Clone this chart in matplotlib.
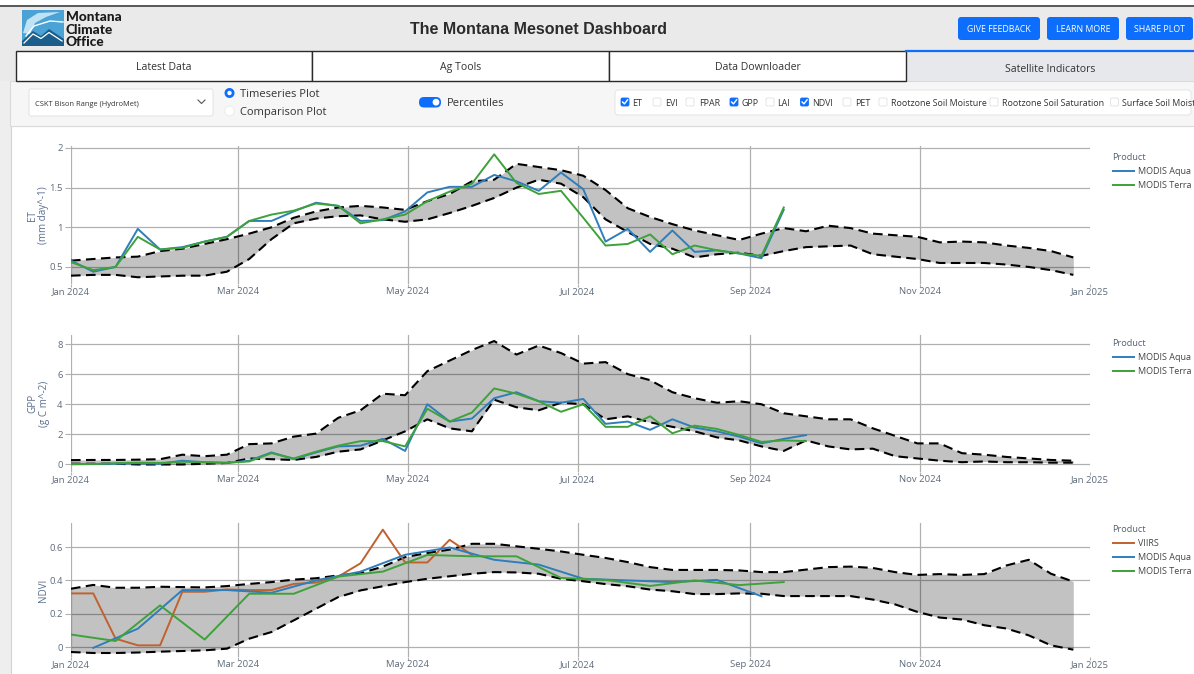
import numpy as np
import matplotlib
matplotlib.use("Agg")
import matplotlib.pyplot as plt
from matplotlib.patches import Rectangle, FancyBboxPatch, Polygon, Circle

plt.rcParams['font.family'] = ['Open Sans', 'DejaVu Sans']

# ---------------- data ----------------
START = np.datetime64('2024-01-01')
COMPOSITE_DAYS = 8

et_upper = [0.58, 0.60, 0.62, 0.63, 0.70, 0.73, 0.79, 0.85, 0.92, 1.00, 1.12, 1.20, 1.25, 1.27, 1.25, 1.22,
            1.33, 1.42, 1.58, 1.60, 1.80, 1.76, 1.72, 1.65, 1.47, 1.24, 1.13, 1.04, 0.96, 0.90, 0.84, 0.92,
            0.99, 0.95, 1.02, 0.99, 0.92, 0.90, 0.88, 0.81, 0.82, 0.81, 0.77, 0.74, 0.70, 0.62]
et_lower = [0.39, 0.40, 0.40, 0.37, 0.38, 0.39, 0.39, 0.44, 0.60, 0.85, 1.05, 1.11, 1.14, 1.15, 1.10, 1.07,
            1.10, 1.18, 1.27, 1.37, 1.50, 1.60, 1.55, 1.38, 1.10, 0.94, 0.79, 0.73, 0.62, 0.66, 0.68, 0.64,
            0.70, 0.75, 0.76, 0.77, 0.66, 0.63, 0.60, 0.55, 0.55, 0.55, 0.53, 0.50, 0.46, 0.40]
et_aqua = [0.58, 0.44, 0.50, 0.98, 0.72, 0.75, 0.82, 0.88, 1.08, 1.08, 1.20, 1.31, 1.27, 1.08, 1.09, 1.20,
           1.44, 1.51, 1.51, 1.66, 1.58, 1.46, 1.69, 1.48, 0.82, 0.98, 0.69, 0.96, 0.69, 0.71, 0.67, 0.61, 1.22]
et_terra = [0.56, 0.46, 0.50, 0.88, 0.72, 0.74, 0.82, 0.88, 1.08, 1.16, 1.21, 1.30, 1.27, 1.05, 1.10, 1.16,
            1.33, 1.45, 1.55, 1.92, 1.56, 1.42, 1.46, 1.12, 0.77, 0.79, 0.91, 0.66, 0.77, 0.71, 0.67, 0.64, 1.25]

gpp_upper = [0.29, 0.30, 0.30, 0.32, 0.35, 0.65, 0.55, 0.65, 1.35, 1.40, 1.85, 2.05, 3.10, 3.60, 4.70, 4.60,
             6.20, 6.90, 7.60, 8.20, 7.30, 7.90, 7.40, 6.70, 6.80, 6.00, 5.60, 4.80, 4.40, 4.10, 4.20, 4.00,
             3.40, 3.20, 3.00, 3.00, 2.40, 1.90, 1.40, 1.40, 0.75, 0.65, 0.50, 0.40, 0.30, 0.25]
gpp_lower = [0.05, 0.05, 0.05, 0.00, 0.00, 0.00, 0.05, 0.10, 0.40, 0.35, 0.30, 0.50, 0.85, 1.00, 1.60, 2.20,
             3.00, 2.40, 2.20, 4.30, 3.80, 3.60, 4.10, 4.00, 3.00, 3.20, 2.80, 2.50, 2.20, 1.80, 1.60, 1.20,
             0.90, 1.60, 1.20, 1.00, 1.05, 0.55, 0.40, 0.25, 0.15, 0.20, 0.15, 0.15, 0.12, 0.12]
gpp_aqua = [0.02, 0.03, 0.05, 0.08, 0.05, 0.25, 0.15, 0.10, 0.25, 0.80, 0.36, 0.80, 1.20, 1.25, 1.70, 0.90,
            4.00, 2.85, 3.05, 4.40, 4.80, 4.20, 4.10, 4.35, 2.70, 2.85, 2.30, 3.00, 2.45, 2.20, 1.85, 1.40,
            1.70, 1.95]
gpp_terra = [0.02, 0.03, 0.08, 0.12, 0.10, 0.18, 0.15, 0.12, 0.20, 0.75, 0.40, 0.85, 1.25, 1.55, 1.55, 1.20,
             3.70, 2.85, 3.45, 5.05, 4.70, 4.20, 3.50, 4.00, 2.50, 2.50, 3.20, 2.07, 2.58, 2.36, 1.96, 1.50,
             1.60, 1.55]

ndvi_upper = [0.350, 0.373, 0.356, 0.356, 0.362, 0.360, 0.358, 0.366, 0.379, 0.390, 0.405, 0.413, 0.430,
              0.443, 0.483, 0.540, 0.565, 0.585, 0.620, 0.620, 0.605, 0.590, 0.574, 0.554, 0.535, 0.510,
              0.480, 0.463, 0.463, 0.463, 0.460, 0.450, 0.450, 0.465, 0.480, 0.483, 0.475, 0.450, 0.433,
              0.438, 0.433, 0.438, 0.490, 0.524, 0.440, 0.393]
ndvi_lower = [-0.030, -0.036, -0.036, -0.033, -0.028, -0.024, -0.020, -0.010, 0.050, 0.090, 0.160, 0.230,
              0.300, 0.340, 0.365, 0.390, 0.410, 0.425, 0.440, 0.450, 0.448, 0.440, 0.410, 0.395, 0.378,
              0.365, 0.345, 0.335, 0.318, 0.318, 0.322, 0.320, 0.306, 0.306, 0.306, 0.306, 0.285, 0.256,
              0.211, 0.177, 0.165, 0.131, 0.111, 0.070, 0.010, -0.016]
ndvi_viirs = [0.322, 0.322, 0.050, 0.010, 0.010, 0.332, 0.332, 0.346, 0.342, 0.342, 0.379, 0.387, 0.423,
              0.503, 0.705, 0.508, 0.508, 0.644, 0.553]
ndvi_aqua = [-0.005, 0.110, 0.342, 0.342, 0.326, 0.400, 0.453, 0.554, 0.598, 0.524, 0.495, 0.410, 0.400,
             0.390, 0.403, 0.305]          # 16-day, starting Jan 9
ndvi_terra = [0.075, 0.036, 0.250, 0.045, 0.320, 0.320, 0.423, 0.453, 0.553, 0.545, 0.545, 0.415, 0.403,
              0.367, 0.400, 0.372, 0.390]  # 16-day, starting Jan 1

month_ticks = ['2024-01-01', '2024-03-01', '2024-05-01', '2024-07-01', '2024-09-01', '2024-11-01', '2025-01-01']
month_labels = ['Jan 2024', 'Mar 2024', 'May 2024', 'Jul 2024', 'Sep 2024', 'Nov 2024', 'Jan 2025']

C_AQUA = '#2f7ebc'
C_TERRA = '#3ea23a'
C_VIIRS = '#c0622e'


def dates(n, step=COMPOSITE_DAYS, offset=0):
    return START + np.timedelta64(offset, 'D') + np.arange(n) * np.timedelta64(step, 'D')


# ---------------- figure & page chrome ----------------
W, H = 1194, 674
fig = plt.figure(figsize=(W / 100, H / 100), dpi=100)
fig.patch.set_facecolor('white')
ui = fig.add_axes([0, 0, 1, 1], zorder=0)
ui.set_xlim(0, W)
ui.set_ylim(H, 0)
ui.axis('off')

DY = 1.5  # visual centring correction for text


def box(x0, y0, x1, y1, fc, ec='none', lw=0.0, r=0.0, z=1):
    if r > 0:
        p = FancyBboxPatch((x0, y0), x1 - x0, y1 - y0, boxstyle=f"round,pad=0,rounding_size={r}",
                           fc=fc, ec=ec, lw=lw, zorder=z)
    else:
        p = Rectangle((x0, y0), x1 - x0, y1 - y0, fc=fc, ec=ec, lw=lw, zorder=z)
    ui.add_patch(p)
    return p


def label(x, y, s, **kw):
    kw.setdefault('va', 'center')
    kw.setdefault('zorder', 4)
    return ui.text(x, y + DY, s, **kw)


# header
box(0, 7, W, 81, '#eaeaea', z=0.5)
ui.plot([0, W], [6, 6], color='#4a4a4a', lw=1.3, zorder=2)

# logo
box(22, 10, 64, 46, '#4aa3d4', z=2)
ui.add_patch(Polygon([(23, 33), (27, 20), (38, 13), (60, 12), (46, 17), (35, 23), (30, 34)],
                     closed=True, fc='#bfe2f4', ec='none', zorder=3))
ui.add_patch(Polygon([(22, 46), (22, 41), (33, 31), (41, 36), (49, 29), (64, 39), (64, 46)],
                     closed=True, fc='#1b5e8c', ec='none', zorder=3))
ui.plot([24, 33, 41, 49, 62], [43, 34, 38.5, 32.5, 41], color='white', lw=0.9, zorder=4)
ui.plot([26, 34, 50, 63], [36, 26, 21, 22], color='white', lw=1.0, zorder=4)
for txt, yy in [('Montana', 15.5), ('Climate', 28), ('Office', 40.5)]:
    label(66, yy, txt, fontsize=9.8, fontweight='black', family=['Lato', 'DejaVu Sans'],
          color='#1a1a1a', ha='left')

label(538, 27.5, 'The Montana Mesonet Dashboard', fontsize=11.5, fontweight='bold',
      family=['Liberation Sans', 'DejaVu Sans'], color='#2b2b2b', ha='center')

for txt, x0, x1 in [('GIVE FEEDBACK', 958, 1040), ('LEARN MORE', 1047, 1119), ('SHARE PLOT', 1126, 1193)]:
    box(x0, 17, x1, 40, '#0d6efd', r=3, z=2)
    label((x0 + x1) / 2, 28, txt, fontsize=6.3, color='white', ha='center')

# tabs
for txt, x0, x1 in [('Latest Data', 15.5, 312), ('Ag Tools', 312, 609), ('Data Downloader', 609, 906)]:
    box(x0, 50.5, x1, 81, 'white', ec='#2a2a2a', lw=1.0, z=2)
    label((x0 + x1) / 2, 66, txt, fontsize=7.6, color='#333333', ha='center')
box(906, 50.5, W, 81, '#e6e8eb', z=1.5)
ui.plot([906, W], [51, 51], color='#0d6efd', lw=1.6, zorder=3)
label(1050, 67.5, 'Satellite Indicators', fontsize=7.6, color='#333333', ha='center')

# control strip
box(0, 81, W, H, '#eeeeee', z=0.6)
box(10, 81, W + 5, 125.5, '#f6f6f6', ec='#dadada', lw=0.8, z=1.8)
box(11, 126, W, H, 'white', z=0.7)
ui.plot([10.5, 10.5], [125, H], color='#d4d4d4', lw=0.8, zorder=1)

box(29, 89, 213, 116, 'white', ec='#e2e2e2', lw=0.7, r=2, z=2)
label(35, 102.5, 'CSKT Bison Range (HydroMet)', fontsize=5.4, color='#333333', ha='left')
ui.plot([198, 201.5, 205], [100, 103.5, 100], color='#555555', lw=0.8, zorder=3)

ui.add_patch(Circle((229.5, 93), 5, fc='#0d6efd', ec='none', zorder=3))
ui.add_patch(Circle((229.5, 93), 2.2, fc='white', ec='none', zorder=4))
ui.add_patch(Circle((229.5, 111), 4.8, fc='white', ec='#ececec', lw=0.7, zorder=3))
label(240, 93, 'Timeseries Plot', fontsize=8, color='#333333', ha='left')
label(240, 111.5, 'Comparison Plot', fontsize=8, color='#333333', ha='left')

box(419, 97, 441, 107.5, '#0d6efd', r=5, z=3)
ui.add_patch(Circle((436, 102.2), 3.4, fc='white', ec='none', zorder=4))
label(447, 102.5, 'Percentiles', fontsize=8, color='#333333', ha='left')

cont = box(615, 90, 1191, 115, 'white', ec='#e4e4e4', lw=0.7, r=3, z=2)
checks = [('ET', 625, 632, True), ('EVI', 657, 665, False), ('FPAR', 690, 699, False), ('GPP', 734, 741, True),
          ('LAI', 770, 777, False), ('NDVI', 804.5, 812, True), ('PET', 847, 855, False),
          ('Rootzone Soil Moisture', 883, 891, False), ('Rootzone Soil Saturation', 994, 1002, False),
          ('Surface Soil Moisture', 1114.5, 1122, False)]
for txt, cx, tx, on in checks:
    box(cx - 4, 98, cx + 4, 106, '#0d6efd' if on else 'white', ec='#0d6efd' if on else '#e0e0e0',
        lw=0.6, r=1.5, z=3)
    if on:
        ui.plot([cx - 2.4, cx - 0.6, cx + 2.6], [102, 103.9, 99.8], color='white', lw=1.0, zorder=4)
    t = label(tx, 102.5, txt, fontsize=6.4, color='#333333', ha='left')
    t.set_clip_path(cont)

# ---------------- charts ----------------
def px_axes(left, top, right, bottom):
    return fig.add_axes([left / W, 1 - bottom / H, (right - left) / W, (bottom - top) / H], zorder=2)


TICK_C = '#5f6b7a'
TITLE_C = '#5a6f8e'


def style(ax, ylim, yticks, ylabels, ylabel, label_right):
    ax.set_facecolor('none')
    ax.set_xlim(np.datetime64('2024-01-01'), np.datetime64('2025-01-01'))
    ax.set_ylim(*ylim)
    ax.set_xticks([np.datetime64(d) for d in month_ticks])
    ax.set_xticklabels(month_labels)
    ax.set_yticks(yticks)
    ax.set_yticklabels(ylabels)
    for s in ax.spines.values():
        s.set_visible(False)
    ax.grid(True, color='#b0b0b0', lw=0.9)
    ax.set_axisbelow(True)
    ax.get_xgridlines()[-1].set_visible(False)
    ax.tick_params(axis='x', labelsize=6.8, labelcolor=TICK_C, length=2, width=0.8, color='#b0b0b0', pad=0.3)
    ax.tick_params(axis='y', labelsize=6.8, labelcolor=TICK_C, length=4, width=0.8, color='#b0b0b0', pad=2)
    ax.set_ylabel(ylabel, fontsize=7.1, color=TITLE_C, linespacing=1.05)
    ax.yaxis.set_label_coords((label_right - 71) / (1090 - 71), 0.5)


def band(ax, upper, lower):
    d = dates(len(upper))
    ax.fill_between(d, lower, upper, color='black', alpha=0.24, lw=0, zorder=2)
    for v in (upper, lower):
        ax.plot(d, v, color='black', lw=1.5, dashes=(4.6, 2.6), zorder=3)


def legend(ax, handles, labels, top):
    lg = ax.legend(handles, labels, title='Product', loc='upper left',
                   bbox_to_anchor=(1112.5 / W, 1 - top / H), bbox_transform=fig.transFigure,
                   frameon=False, fontsize=6.5, title_fontsize=6.6, handlelength=2.4,
                   handletextpad=0.4, labelspacing=0.55, borderpad=0, borderaxespad=0, alignment='left')
    lg.get_title().set_color('#55606e')
    for t in lg.get_texts():
        t.set_color('#444444')


# ET
ax1 = px_axes(71, 146.4, 1090, 284)
band(ax1, et_upper, et_lower)
la, = ax1.plot(dates(len(et_aqua)), et_aqua, color=C_AQUA, lw=1.4, zorder=4)
lt, = ax1.plot(dates(len(et_terra)), et_terra, color=C_TERRA, lw=1.4, zorder=4)
style(ax1, (0.285, 2.02), [0.5, 1, 1.5, 2], ['0.5', '1', '1.5', '2'], 'ET\n(mm day^-1)', 49)
legend(ax1, [la, lt], ['MODIS Aqua', 'MODIS Terra'], 153)

# GPP
ax2 = px_axes(71, 335, 1090, 472)
band(ax2, gpp_upper, gpp_lower)
la, = ax2.plot(dates(len(gpp_aqua)), gpp_aqua, color=C_AQUA, lw=1.4, zorder=4)
lt, = ax2.plot(dates(len(gpp_terra)), gpp_terra, color=C_TERRA, lw=1.4, zorder=4)
style(ax2, (-0.5, 8.6), [0, 2, 4, 6, 8], ['0', '2', '4', '6', '8'], 'GPP\n(g C m^-2)', 50)
legend(ax2, [la, lt], ['MODIS Aqua', 'MODIS Terra'], 339)

# NDVI
ax3 = px_axes(71, 523, 1090, 657)
band(ax3, ndvi_upper, ndvi_lower)
lv, = ax3.plot(dates(len(ndvi_viirs)), ndvi_viirs, color=C_VIIRS, lw=1.4, zorder=4)
la, = ax3.plot(dates(len(ndvi_aqua), step=16, offset=8), ndvi_aqua, color=C_AQUA, lw=1.4, zorder=4)
lt, = ax3.plot(dates(len(ndvi_terra), step=16), ndvi_terra, color=C_TERRA, lw=1.4, zorder=4)
style(ax3, (-0.06, 0.745), [0, 0.2, 0.4, 0.6], ['0', '0.2', '0.4', '0.6'], 'NDVI', 49)
legend(ax3, [lv, la, lt], ['VIIRS', 'MODIS Aqua', 'MODIS Terra'], 525)

fig.savefig('out.png', dpi=100)
